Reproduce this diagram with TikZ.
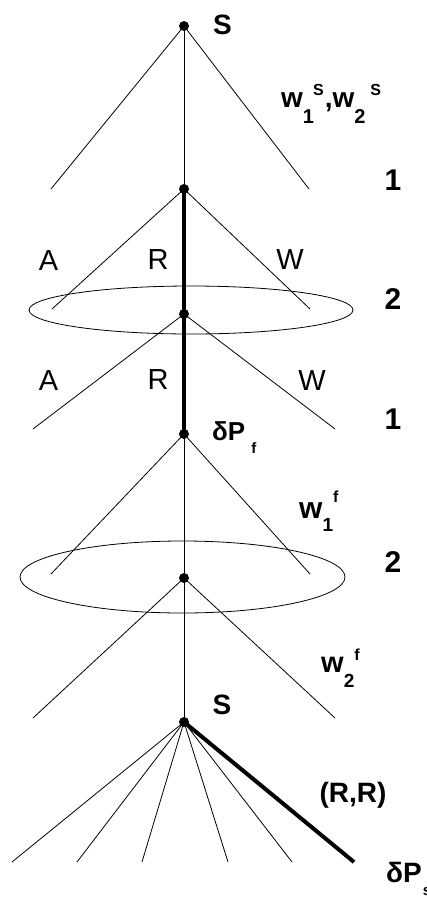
\documentclass[tikz,border=0pt]{standalone}
\usepackage{fontspec}
\setmainfont{Liberation Sans}
\newcommand\lsize[1]{\fontsize{#1}{#1}\selectfont}
\begin{document}
\begin{tikzpicture}[x=1pt,y=-1pt,
  thinedge/.style={line width=0.8pt},
  thickedge/.style={line width=4pt},
  dot/.style={circle,fill=black,inner sep=0pt,minimum size=10pt},
  bold/.style={inner sep=0pt,font=\lsize{28}\bfseries},
  num/.style={inner sep=0pt,font=\lsize{30}\bfseries},
  move/.style={inner sep=0pt,font=\lsize{29}},
  wlabel/.style={inner sep=0pt,anchor=base west,font=\bfseries}]
\useasboundingbox (0,0) rectangle (426,897);
% tree nodes
\coordinate (n1) at (184,26);
\coordinate (n2) at (184,189);
\coordinate (n3) at (184,314);
\coordinate (n4) at (184,434);
\coordinate (n5) at (184,578);
\coordinate (n6) at (184,722);
% leaves
\coordinate (l1a) at (51,189);  \coordinate (l1b) at (309,189);
\coordinate (l2a) at (52,309);  \coordinate (l2b) at (310,309);
\coordinate (l3a) at (33,429);  \coordinate (l3b) at (335,429);
\coordinate (l4a) at (51,574);  \coordinate (l4b) at (310,574);
\coordinate (l5a) at (33,718);  \coordinate (l5b) at (335,718);
\coordinate (f1) at (12,862);
\coordinate (f2) at (77,862);
\coordinate (f3) at (142,862);
\coordinate (f4) at (228,862);
\coordinate (f5) at (292,862);
\coordinate (f6) at (354,862);
% information sets
\draw[thinedge] (191,310) ellipse [x radius=162, y radius=24];
\draw[thinedge] (182.5,577) ellipse [x radius=162.5, y radius=36];
% thin edges
\draw[thinedge] (l1a) -- (n1) -- (l1b);
\draw[thinedge] (n1) -- (n2);
\draw[thinedge] (l2a) -- (n2) -- (l2b);
\draw[thinedge] (l3a) -- (n3) -- (l3b);
\draw[thinedge] (l4a) -- (n4) -- (l4b);
\draw[thinedge] (n4) -- (n5);
\draw[thinedge] (l5a) -- (n5) -- (l5b);
\draw[thinedge] (n5) -- (n6);
\foreach \f in {f1,f2,f3,f4,f5} \draw[thinedge] (n6) -- (\f);
% thick edges
\draw[thickedge] (n2) -- (n3) -- (n4);
\draw[thickedge] (n6) -- (f6);
% dots
\foreach \n in {n1,n2,n3,n4,n5,n6} \node[dot] (d\n) at (\n) {};
% labels
\node[bold] (s1) at (222.5,25) {S};
\node[bold] (s2) at (222,705) {S};
\node[num] (r1) at (393,180) {1};
\node[num] (r2) at (393,299) {2};
\node[num] (r3) at (393,419) {1};
\node[num] (r4) at (393,562) {2};
\node[move] (a1) at (48.5,260.5) {A};
\node[move] (rr1) at (158,260) {R};
\node[move] (w1) at (290,260) {W};
\node[move] (a2) at (48.5,381) {A};
\node[move] (rr2) at (158,380) {R};
\node[move] (w2) at (312,381) {W};
\node[bold] (rr) at (353,795) {(R,R)};
\node[wlabel] (ws) at (281,107) {\lsize{28}w\raisebox{-16pt}{\lsize{20}1}\hspace{-1pt}\raisebox{12pt}{\lsize{16}S}\hspace{1pt},w\raisebox{-16pt}{\lsize{20}2}\hspace{5pt}\raisebox{12pt}{\lsize{16}S}};
\node[wlabel] (wf1) at (299,518) {\lsize{30}w\raisebox{-13pt}{\lsize{19}1}\hspace{0pt}\raisebox{16pt}{\lsize{16}f}};
\node[wlabel] (wf2) at (321,672) {\lsize{29}w\raisebox{-15pt}{\lsize{19}2}\hspace{0pt}\raisebox{12pt}{\lsize{16}f}};
\node[wlabel] (dpf) at (212,440) {\lsize{26}δP\hspace{6pt}\raisebox{-13pt}{\lsize{15}f}};
\node[wlabel] (dps) at (386,882) {\lsize{28}δP\hspace{1pt}\raisebox{-13pt}{\lsize{15}s}};
\end{tikzpicture}
\end{document}
